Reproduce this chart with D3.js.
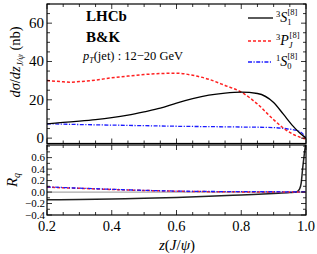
<!DOCTYPE html>
<html><head><meta charset="utf-8">
<script src="https://cdn.jsdelivr.net/npm/d3@7"></script>
<style>body{margin:0;background:#fff}svg{display:block}text{font-family:"Liberation Serif","DejaVu Serif",serif}</style>
</head><body><svg id="c" width="317" height="254"></svg>
<script>
// data
const zS = [0.2,0.25,0.3,0.35,0.4,0.45,0.5,0.55,0.6,0.65,0.7,0.75,0.8,0.85,0.9,0.93,0.96,0.98,1.0];
const s1 = [7.4,8.2,8.9,9.7,10.7,12.0,13.7,15.6,18.3,20.6,22.4,23.5,24.0,23.3,18.6,12.5,6.3,2.8,0];
const zP = [0.2,0.25,0.27,0.3,0.35,0.4,0.45,0.5,0.55,0.6,0.65,0.7,0.75,0.8,0.85,0.9,0.93,0.96,0.98,1.0];
const p3 = [30.1,29.4,29.2,29.5,30.3,31.5,32.4,33.2,33.7,33.9,32.8,30.7,27.5,24.0,17.8,9.6,5.3,2.0,0.6,-0.5];
const zB = [0.2,0.3,0.4,0.5,0.6,0.7,0.8,0.9,0.94,0.98,0.995,1.0];
const s0 = [7.5,7.1,6.8,6.5,6.2,6.0,5.8,5.5,4.9,3.5,1.3,0];
const zR = [0.2,0.3,0.4,0.5,0.6,0.7,0.8,0.9,0.95,0.97,0.98,0.985,0.99,0.995,1.0];
const rS1 = [-0.135,-0.13,-0.12,-0.11,-0.095,-0.075,-0.05,-0.025,-0.01,0.0,0.05,0.15,0.43,0.67,0.9];
const zR2 = [0.2,0.3,0.4,0.5,0.6,0.7,0.8,0.9,1.0];
const rP = [0.085,0.065,0.045,0.028,0.014,0.007,0.003,0.002,0.0];
const rS0 = [0.09,0.068,0.048,0.03,0.017,0.01,0.007,0.005,0.004];
const xTicks = [0.2,0.4,0.6,0.8,1.0];
const xLabels = ["0.2","0.4","0.6","0.8","1.0"];
const yTopTicks = [0,20,40,60];
const yBotTicks = [-0.4,-0.2,0.0,0.2,0.4,0.6];
const yBotLabels = ["\u22120.4","\u22120.2","0.0","0.2","0.4","0.6"];

const svg = d3.select("#c");
const L = 47, R = 306;
const x = d3.scaleLinear().domain([0.2,1.0]).range([L,R]);
const yT = d3.scaleLinear().domain([-2.8,70]).range([143.5,4]);
const yB = d3.scaleLinear().domain([-0.4,0.82]).range([215,145]);

const defs = svg.append("defs");
defs.append("clipPath").attr("id","ct").append("rect").attr("x",L).attr("y",4).attr("width",R-L).attr("height",139.5);
defs.append("clipPath").attr("id","cb").append("rect").attr("x",L).attr("y",145).attr("width",R-L).attr("height",70);

function ticksPanel(y, y0, y1, yMaj, yMin){
  const g = svg.append("g").attr("stroke","#000").attr("stroke-width",0.8);
  const xMaj = d3.range(0.2,1.0001,0.2), xMin = d3.range(0.2,1.0001,0.05);
  xMin.forEach(v=>{const len = xMaj.some(m=>Math.abs(m-v)<1e-6)?5:3;
    g.append("line").attr("x1",x(v)).attr("x2",x(v)).attr("y1",y1).attr("y2",y1-len);
    g.append("line").attr("x1",x(v)).attr("x2",x(v)).attr("y1",y0).attr("y2",y0+len);});
  yMin.forEach(v=>{const len = yMaj.some(m=>Math.abs(m-v)<1e-6)?5:3;
    g.append("line").attr("x1",L).attr("x2",L+len).attr("y1",y(v)).attr("y2",y(v));
    g.append("line").attr("x1",R).attr("x2",R-len).attr("y1",y(v)).attr("y2",y(v));});
  svg.append("rect").attr("x",L).attr("y",y0).attr("width",R-L).attr("height",y1-y0)
    .attr("fill","none").attr("stroke","#000").attr("stroke-width",1.2);
}

// top panel
const gt = svg.append("g").attr("clip-path","url(#ct)");
const line = (xs,ys,yy)=>d3.line().x((d,i)=>x(xs[i])).y((d,i)=>yy(ys[i])).curve(d3.curveMonotoneX)(ys);
gt.append("path").attr("d",line(zB,s0,yT)).attr("fill","none").attr("stroke","#1a1aff").attr("stroke-width",1.3).attr("stroke-dasharray","4,1.5,1.2,1.5");
gt.append("path").attr("d",line(zP,p3,yT)).attr("fill","none").attr("stroke","#ff2020").attr("stroke-width",1.5).attr("stroke-dasharray","3,2");
gt.append("path").attr("d",line(zS,s1,yT)).attr("fill","none").attr("stroke","#000").attr("stroke-width",1.3);
ticksPanel(yT, 4, 143.5, yTopTicks, d3.range(0,70.1,5));

// bottom panel
const gb = svg.append("g").attr("clip-path","url(#cb)");
gb.append("line").attr("x1",L).attr("x2",R).attr("y1",yB(0)).attr("y2",yB(0)).attr("stroke","#aaa").attr("stroke-width",1.2);
gb.append("path").attr("d",line(zR,rS1,yB)).attr("fill","none").attr("stroke","#222").attr("stroke-width",1.5);
gb.append("path").attr("d",line(zR2,rP,yB)).attr("fill","none").attr("stroke","#ff2020").attr("stroke-width",1.5).attr("stroke-dasharray","3,2");
gb.append("path").attr("d",line(zR2,rS0,yB)).attr("fill","none").attr("stroke","#1a1aff").attr("stroke-width",1.3).attr("stroke-dasharray","4,1.5,1.2,1.5");
ticksPanel(yB, 145, 215, yBotTicks, d3.range(-0.4,0.81,0.1));

// tick labels
yTopTicks.forEach(v=>svg.append("text").attr("x",L-3).attr("y",yT(v)+5).attr("text-anchor","end").attr("font-size",15).text(v));
yBotTicks.forEach((v,i)=>svg.append("text").attr("x",L-2).attr("y",yB(v)+3.8).attr("text-anchor","end").attr("font-size",11).text(yBotLabels[i]));
xTicks.forEach((v,i)=>svg.append("text").attr("x",x(v)).attr("y",231).attr("text-anchor","middle").attr("font-size",14.5).text(xLabels[i]));

// axis titles
svg.append("text").attr("transform","translate(20,62) rotate(-90)").attr("text-anchor","middle").attr("font-size",14.5)
  .html('<tspan font-style="italic">d\u03C3</tspan>/<tspan font-style="italic">dz</tspan><tspan font-size="9" dy="3" font-style="italic">J/\u03C8</tspan><tspan dy="-3"> (nb)</tspan>');
svg.append("text").attr("transform","translate(17,180) rotate(-90)").attr("text-anchor","middle").attr("font-size",15)
  .html('<tspan font-style="italic">R</tspan><tspan font-size="10" dy="3" font-style="italic">q</tspan>');
svg.append("text").attr("x",177).attr("y",250).attr("text-anchor","middle").attr("font-size",15)
  .html('<tspan font-style="italic">z</tspan>(<tspan font-style="italic">J</tspan>/<tspan font-style="italic">\u03C8</tspan>)');

// annotations
svg.append("text").attr("x",86).attr("y",21).attr("font-size",15).attr("font-weight","bold").text("LHCb");
svg.append("text").attr("x",86).attr("y",42).attr("font-size",15).attr("font-weight","bold").text("B&K");
svg.append("text").attr("x",83).attr("y",60).attr("font-size",12.5)
  .html('<tspan font-style="italic">p</tspan><tspan font-size="8" dy="2.5" font-style="italic">T</tspan><tspan dy="-2.5">(jet) : 12\u221220 GeV</tspan>');

// legend
const leg = [
  {y:18, x2:273, c:"#000", d:null, w:1.3, t:'<tspan font-size="8.5" dy="-5">3</tspan><tspan font-style="italic" dy="5">S</tspan><tspan font-size="8.5" dy="3">1</tspan><tspan font-size="8.5" dx="-4" dy="-10">[8]</tspan>'},
  {y:41, x2:271, c:"#ff2020", d:"3,2", w:1.5, t:'<tspan font-size="8.5" dy="-5">3</tspan><tspan font-style="italic" dy="5">P</tspan><tspan font-size="8.5" font-style="italic" dy="3">J</tspan><tspan font-size="8.5" dx="-3" dy="-10">[8]</tspan>'},
  {y:62, x2:271, c:"#1a1aff", d:"4,1.5,1.2,1.5", w:1.3, t:'<tspan font-size="8.5" dy="-5">1</tspan><tspan font-style="italic" dy="5">S</tspan><tspan font-size="8.5" dy="3">0</tspan><tspan font-size="8.5" dx="-4" dy="-10">[8]</tspan>'}
];
leg.forEach(e=>{
  svg.append("line").attr("x1",248).attr("x2",e.x2).attr("y1",e.y).attr("y2",e.y).attr("stroke",e.c).attr("stroke-width",e.w).attr("stroke-dasharray",e.d);
  svg.append("text").attr("x",276).attr("y",e.y+4).attr("font-size",14).html(e.t);
});
</script></body></html>
